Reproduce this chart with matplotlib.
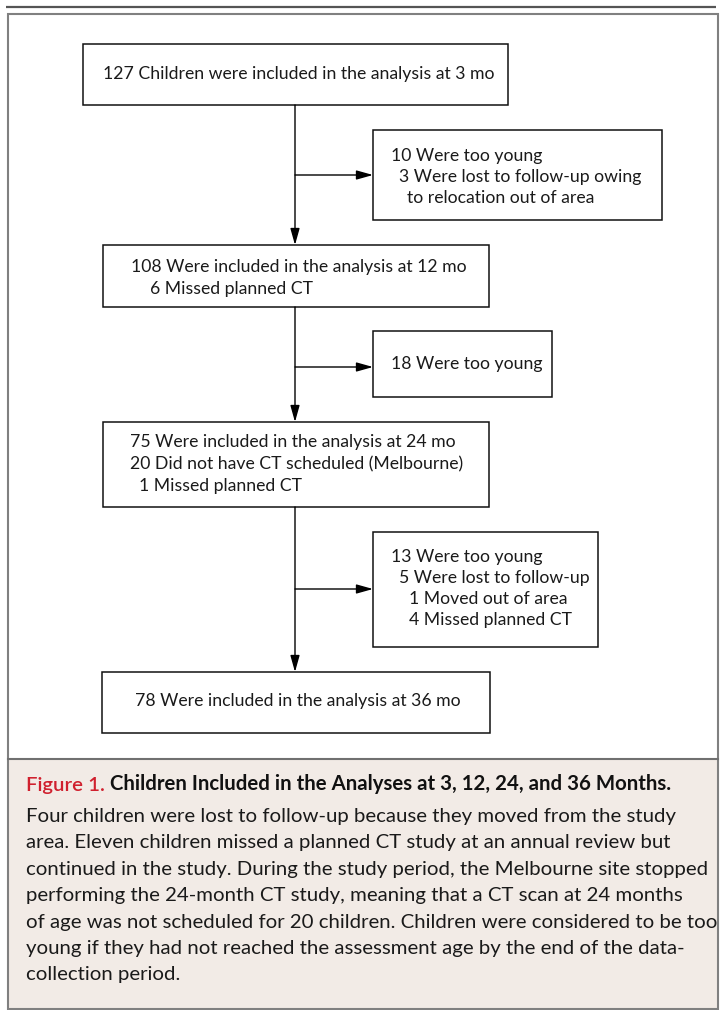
# flowchart: criancas incluidas nas analises aos 3, 12, 24 e 36 meses
import matplotlib
matplotlib.use("Agg")
import matplotlib.pyplot as plt
from matplotlib.patches import Rectangle

plt.rcParams["font.family"] = ["Lato", "DejaVu Sans"]

# textos das caixas (cada item = uma linha)
caixa_3mo = ["127 Children were included in the analysis at 3 mo"]
saida_3mo = ["10 Were too young", "3 Were lost to follow-up owing", "to relocation out of area"]
caixa_12mo = ["108 Were included in the analysis at 12 mo", "6 Missed planned CT"]
saida_12mo = ["18 Were too young"]
caixa_24mo = ["75 Were included in the analysis at 24 mo",
              "20 Did not have CT scheduled (Melbourne)",
              "1 Missed planned CT"]
saida_24mo = ["13 Were too young", "5 Were lost to follow-up",
              "1 Moved out of area", "4 Missed planned CT"]
caixa_36mo = ["78 Were included in the analysis at 36 mo"]

titulo_fig = "Figure 1."
titulo_txt = " Children Included in the Analyses at 3, 12, 24, and 36 Months."
legenda = [
    "Four children were lost to follow-up because they moved from the study",
    "area. Eleven children missed a planned CT study at an annual review but",
    "continued in the study. During the study period, the Melbourne site stopped",
    "performing the 24-month CT study, meaning that a CT scan at 24 months",
    "of age was not scheduled for 20 children. Children were considered to be too",
    "young if they had not reached the assessment age by the end of the data-",
    "collection period.",
]

W, H = 721, 1010
fig = plt.figure(figsize=(W / 100, H / 100), dpi=100)
ax = fig.add_axes([0, 0, 1, 1])
ax.set_xlim(0, W)
ax.set_ylim(H, 0)
ax.axis("off")

# moldura e fundo da legenda
ax.plot([6, 716], [7, 7], color="#555555", lw=1.6, solid_capstyle="butt")
ax.add_patch(Rectangle((8, 759), 710, 250, facecolor="#f2ebe6", edgecolor="none"))
ax.add_patch(Rectangle((8, 14), 710, 995, facecolor="none", edgecolor="#808080", lw=1.5))
ax.plot([8, 718], [759, 759], color="#707070", lw=1.5)

tam_caixa = 12.7
tam_leg = 14.7


def caixa(x0, y0, x1, y1, linhas, xs, ys):
    ax.add_patch(Rectangle((x0, y0), x1 - x0, y1 - y0, facecolor="white",
                           edgecolor="#111111", lw=1.1))
    for t, x, y in zip(linhas, xs, ys):
        ax.text(x, y, t, fontsize=tam_caixa, ha="left", va="center", color="#1a1a1a")


def seta(x0, y0, x1, y1):
    ax.annotate("", xy=(x1, y1), xytext=(x0, y0),
                arrowprops=dict(arrowstyle="-|>,head_length=0.5,head_width=0.14",
                                mutation_scale=20, color="black", lw=1.0,
                                shrinkA=0, shrinkB=0))


tronco = 295

caixa(83, 44, 508, 105, caixa_3mo, [103], [74])
caixa(373, 130, 662, 220, saida_3mo, [391, 399, 407], [156, 177, 198])
caixa(103, 245, 489, 307, caixa_12mo, [131, 150], [267, 289])
caixa(373, 331, 552, 397, saida_12mo, [391], [364])
caixa(103, 422, 489, 507, caixa_24mo, [130, 130, 139], [442, 464, 486])
caixa(373, 532, 598, 647, saida_24mo, [391, 399, 409, 409], [557, 578, 599, 620])
caixa(102, 672, 490, 733, caixa_36mo, [135], [701])

seta(tronco, 105, tronco, 245)
seta(tronco, 307, tronco, 422)
seta(tronco, 507, tronco, 672)
seta(tronco, 175, 373, 175)
seta(tronco, 367, 373, 367)
seta(tronco, 589, 373, 589)

# legenda
t1 = ax.text(26, 791, titulo_fig, fontsize=tam_leg, fontweight="semibold",
             color="#d0202e", ha="left", va="baseline")
ax.annotate(titulo_txt, xy=(1, 0), xycoords=t1, fontsize=tam_leg, fontweight="bold",
            color="#111111", ha="left", va="bottom")
for i, linha in enumerate(legenda):
    ax.text(26, 822 + i * 26.4, linha, fontsize=tam_leg, color="#1a1a1a", ha="left", va="baseline")

fig.savefig("out.png", dpi=100)
